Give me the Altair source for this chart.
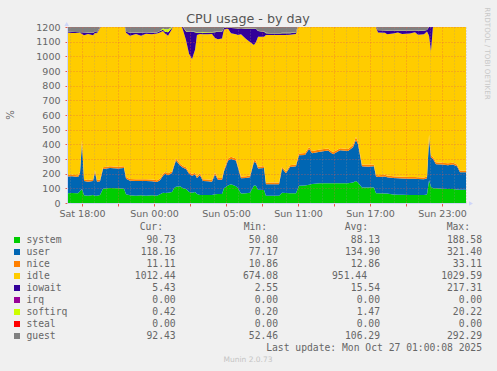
import altair as alt
import pandas as pd

# hours relative to "Sat 18:00" (local time)
HOURS = [-1.25, -0.83, -0.33, -0.17, 0.00, 0.17, 0.50, 0.92, 1.08, 1.25,
         1.50, 1.75, 2.33, 3.00, 3.50, 3.67, 4.00, 4.50, 4.92, 5.33,
         5.83, 6.25, 6.50, 6.75, 6.92, 7.17, 7.50, 7.67, 7.83, 8.17,
         8.42, 8.67, 8.92, 9.17, 9.42, 9.58, 9.83, 10.08, 10.50, 10.83,
         11.08, 11.33, 11.67, 11.83, 12.17, 12.42, 12.83, 13.00, 13.25, 13.67,
         14.00, 14.33, 14.50, 14.67, 15.17, 15.33, 15.83, 16.42, 16.67, 17.00,
         17.33, 17.83, 18.08, 18.58, 18.92, 19.17, 19.83, 20.50, 20.92, 21.50,
         22.17, 22.58, 22.83, 23.00, 23.33, 23.83, 24.33, 24.50, 24.67, 25.25,
         25.42, 25.92, 26.33, 26.67, 27.33, 27.75, 28.00, 28.50, 28.75, 28.92,
         29.08, 29.25, 29.50, 30.00, 30.50, 30.92, 31.25, 31.50, 32.00]

SYSTEM = [66, 68, 66, 80, 95, 52, 50, 55, 50, 50,
          55, 98, 102, 100, 98, 60, 52, 50, 52, 50,
          53, 50, 60, 70, 68, 70, 75, 100, 110, 115,
          100, 95, 75, 70, 75, 62, 55, 55, 55, 55,
          60, 62, 62, 100, 120, 128, 115, 100, 65, 66,
          70, 120, 118, 90, 88, 50, 50, 50, 70, 68,
          66, 66, 118, 120, 125, 130, 134, 134, 134, 135,
          134, 140, 150, 140, 105, 105, 105, 66, 66, 64,
          64, 58, 56, 56, 55, 55, 55, 54, 58, 155,
          110, 100, 100, 98, 96, 95, 92, 90, 90.73]

USER = [114, 114, 112, 120, 320, 98, 95, 95, 160, 95,
        93, 134, 136, 136, 140, 105, 100, 100, 98, 100,
        95, 93, 95, 115, 132, 120, 130, 150, 180, 140,
        140, 137, 125, 115, 120, 108, 135, 95, 93, 90,
        135, 96, 96, 115, 170, 172, 175, 140, 103, 104,
        105, 160, 157, 145, 150, 78, 78, 78, 165, 134,
        179, 184, 207, 208, 243, 210, 216, 224, 198, 225,
        221, 240, 280, 260, 145, 143, 145, 114, 112, 116,
        111, 112, 112, 111, 111, 110, 109, 108, 110, 285,
        200, 200, 165, 164, 162, 167, 158, 120, 118.16]

NICE = [11, 11, 12, 12, 15, 12, 12, 12, 14, 12,
        12, 12, 13, 12, 12, 12, 12, 12, 12, 12,
        12, 12, 12, 12, 12, 12, 12, 13, 14, 13,
        13, 12, 12, 12, 12, 12, 12, 12, 12, 12,
        13, 12, 12, 13, 14, 15, 14, 13, 12, 12,
        12, 14, 14, 13, 13, 11, 11, 11, 12, 12,
        12, 12, 13, 13, 14, 14, 14, 14, 14, 14,
        14, 15, 20, 18, 13, 13, 13, 12, 12, 12,
        12, 12, 12, 12, 12, 12, 12, 12, 12, 25,
        14, 14, 13, 13, 13, 13, 13, 12, 11.11]

IDLE = [971, 966, 969, 948, 723, 982, 996, 982, 935, 1001,
        1034, 988, 981, 984, 982, 984, 977, 991, 979, 992,
        991, 1000, 995, 975, 943, 938, 970, 969, 928, 964,
        925, 866, 805, 785, 838, 963, 950, 988, 990, 995,
        917, 947, 952, 955, 884, 843, 847, 892, 971, 936,
        911, 784, 809, 885, 882, 1007, 1007, 1007, 899, 932,
        891, 891, 894, 891, 850, 878, 868, 860, 886, 858,
        863, 837, 782, 814, 969, 971, 969, 1007, 972, 969,
        963, 974, 983, 974, 977, 987, 971, 976, 989, 675,
        710, 891, 954, 957, 961, 957, 969, 1010, 1012.44]

IOWAIT = [5, 8, 5, 5, 12, 18, 8, 15, 8, 6,
          5, 3, 3, 3, 3, 6, 20, 8, 18, 8,
          10, 8, 10, 10, 12, 25, 8, 3, 3, 3,
          20, 60, 150, 185, 120, 15, 8, 10, 10, 10,
          40, 50, 45, 10, 8, 35, 40, 45, 40, 70,
          90, 110, 90, 40, 35, 12, 10, 10, 12, 12,
          10, 10, 3, 3, 3, 3, 3, 3, 3, 3,
          3, 3, 3, 3, 3, 3, 3, 5, 15, 15,
          25, 20, 12, 22, 20, 12, 28, 25, 10, 60,
          200, 30, 3, 3, 3, 3, 3, 3, 5.43]

IRQ = [0] * len(HOURS)

SOFTIRQ = [1, 1, 1, 1, 1, 1, 1, 1, 1, 1,
           1, 1, 1, 1, 1, 1, 1, 1, 1, 1,
           1, 2, 3, 8, 18, 20, 5, 1, 1, 1,
           2, 2, 3, 3, 3, 5, 5, 6, 5, 4,
           3, 3, 3, 2, 2, 2, 2, 2, 2, 2,
           2, 2, 2, 2, 2, 2, 2, 2, 2, 2,
           2, 2, 1, 1, 1, 1, 1, 1, 1, 1,
           1, 1, 1, 1, 1, 1, 1, 1, 1, 1,
           1, 1, 1, 1, 1, 1, 1, 1, 1, 2,
           2, 1, 1, 1, 1, 1, 1, 1, 0.42]

STEAL = [0] * len(HOURS)

GUEST = [95, 95, 100, 110, 280, 100, 95, 95, 150, 95,
         95, 110, 110, 110, 110, 95, 95, 95, 95, 95,
         95, 95, 100, 105, 110, 110, 110, 120, 130, 120,
         115, 110, 105, 100, 100, 95, 95, 95, 95, 95,
         100, 95, 95, 110, 125, 130, 125, 115, 95, 95,
         95, 130, 130, 115, 115, 90, 90, 90, 120, 110,
         120, 120, 140, 140, 160, 140, 145, 150, 135, 150,
         150, 160, 200, 180, 110, 110, 110, 95, 95, 95,
         95, 90, 90, 90, 90, 90, 90, 90, 95, 290,
         200, 150, 120, 120, 115, 120, 110, 95, 92.43]

NAMES = ["system", "user", "nice", "idle", "iowait", "irq", "softirq", "steal", "guest"]
COLORS = ["#00CC00", "#0066B3", "#FF8000", "#FFCC00", "#330099",
          "#990099", "#CCFF00", "#FF0000", "#808080"]
CUR = [90.73, 118.16, 11.11, 1012.44, 5.43, 0.00, 0.42, 0.00, 92.43]
MIN = [50.80, 77.17, 10.86, 674.08, 2.55, 0.00, 0.20, 0.00, 52.46]
AVG = [88.13, 134.90, 12.86, 951.44, 15.54, 0.00, 1.47, 0.00, 106.29]
MAX = [188.58, 321.40, 33.11, 1029.59, 217.31, 0.00, 20.22, 0.00, 292.29]
HEADERS = ["Cur:", "Min:", "Avg:", "Max:"]

X_TICKS = [0, 6, 12, 18, 24, 30]
X_LABELS = ["Sat 18:00", "Sun 00:00", "Sun 05:00", "Sun 11:00", "Sun 17:00", "Sun 23:00"]
Y_TICKS = list(range(0, 1300, 100))

TITLE = "CPU usage - by day"
SIDE_TEXT = "RRDTOOL / TOBI OETIKER"
LAST_UPDATE = "Last update: Mon Oct 27 01:00:08 2025"
FOOTER = "Munin 2.0.73"

series = [SYSTEM, USER, NICE, IDLE, IOWAIT, IRQ, SOFTIRQ, STEAL, GUEST]
rows = []
for k, (name, vals) in enumerate(zip(NAMES, series)):
    for t, v in zip(HOURS, vals):
        rows.append({"t": t, "value": v, "series": name, "ord": k})
df = pd.DataFrame(rows)

W, H = 399, 176
FONT = "DejaVu Sans"
MONO = "DejaVu Sans Mono"
TXT = "#666666"
AXIS_C = "#CFD6F8"
MGRID = "#E85A4A"
GRID = "#A09090"

label_expr = " : ".join(f"datum.value == {v} ? '{lab}'" for v, lab in zip(X_TICKS, X_LABELS)) + " : ''"

area = alt.Chart(df).mark_area(clip=True, interpolate="linear").encode(
    x=alt.X("t:Q",
            scale=alt.Scale(domain=[-1.25, 32], nice=False, zero=False),
            axis=alt.Axis(values=list(range(-1, 33)), labelExpr=label_expr, title=None,
                          grid=True,
                          gridColor={"condition": {"test": "datum.value % 3 == 0", "value": MGRID},
                                     "value": GRID},
                          gridOpacity={"condition": {"test": "datum.value % 3 == 0", "value": 0.55},
                                       "value": 0.45},
                          gridDash=[1, 2],
                          tickColor={"condition": {"test": "datum.value % 3 == 0", "value": MGRID},
                                     "value": "rgba(0,0,0,0)"},
                          tickSize=3, labelPadding=2, domainColor=AXIS_C,
                          labelFont=FONT, labelFontSize=9.5, labelColor=TXT,
                          labelOverlap=False, labelFlush=False, zindex=1)),
    y=alt.Y("value:Q", stack="zero",
            scale=alt.Scale(domain=[0, 1200], nice=False),
            axis=alt.Axis(values=Y_TICKS, format="d", title=None, grid=True, gridColor=MGRID,
                          gridDash=[1, 2], gridOpacity=0.55, tickColor=MGRID, tickSize=2,
                          labelPadding=5, domainColor=AXIS_C, labelFont=FONT,
                          labelFontSize=9.5, labelColor=TXT, zindex=1)),
    color=alt.Color("series:N", scale=alt.Scale(domain=NAMES, range=COLORS), legend=None),
    order=alt.Order("ord:Q", sort="ascending"),
)

title = alt.Chart(pd.DataFrame({"s": [TITLE]})).mark_text(
    font=FONT, fontSize=12.7, color="#555555", align="center", baseline="middle"
).encode(text="s:N", x=alt.value(181), y=alt.value(-8))

ylab = alt.Chart(pd.DataFrame({"s": ["%"]})).mark_text(
    font=FONT, fontSize=10, color=TXT, align="center", baseline="middle", angle=270
).encode(text="s:N", x=alt.value(-56), y=alt.value(88))

side = alt.Chart(pd.DataFrame({"s": [SIDE_TEXT]})).mark_text(
    font=FONT, fontSize=7.2, color="#C8C8C8", align="center", baseline="middle", angle=90
).encode(text="s:N", x=alt.value(420), y=alt.value(26.5))

up_arrow = alt.Chart(pd.DataFrame({"a": [0]})).mark_point(
    shape="triangle-up", filled=True, size=22, color=AXIS_C, opacity=1
).encode(x=alt.value(-0.3), y=alt.value(-3))

right_arrow = alt.Chart(pd.DataFrame({"a": [0]})).mark_point(
    shape="triangle-right", filled=True, size=22, color=AXIS_C, opacity=1
).encode(x=alt.value(404), y=alt.value(176.5))

leg = pd.DataFrame({"name": NAMES, "color": COLORS, "cur": CUR, "min": MIN,
                    "avg": AVG, "max": MAX, "row": list(range(len(NAMES)))})
base = alt.Chart(leg).transform_calculate(py="213 + datum.row * 12",
                                          ax="datum.name == 'idle' ? 300 : 313")

swatch = base.mark_square(size=36, opacity=1).encode(
    x=alt.value(-50), y=alt.Y("py:Q", scale=None), color=alt.Color("color:N", scale=None))

txt_kw = dict(font=MONO, fontSize=9.7, color=TXT, baseline="middle")
names_t = base.mark_text(align="left", **txt_kw).encode(
    x=alt.value(-40.5), y=alt.Y("py:Q", scale=None), text="name:N")
cur_t = base.mark_text(align="right", **txt_kw).encode(
    x=alt.value(108.7), y=alt.Y("py:Q", scale=None), text=alt.Text("cur:Q", format=".2f"))
min_t = base.mark_text(align="right", **txt_kw).encode(
    x=alt.value(211), y=alt.Y("py:Q", scale=None), text=alt.Text("min:Q", format=".2f"))
avg_t = base.mark_text(align="right", **txt_kw).encode(
    x=alt.X("ax:Q", scale=None), y=alt.Y("py:Q", scale=None), text=alt.Text("avg:Q", format=".2f"))
max_t = base.mark_text(align="right", **txt_kw).encode(
    x=alt.value(415), y=alt.Y("py:Q", scale=None), text=alt.Text("max:Q", format=".2f"))

hdr = pd.DataFrame({"h": HEADERS, "k": [0, 1, 2, 3]})
hdr_t = alt.Chart(hdr).transform_calculate(
    hx="[96, 200, 301, 403][datum.k]"
).mark_text(align="right", **txt_kw).encode(
    x=alt.X("hx:Q", scale=None), y=alt.value(200), text="h:N")

last_t = alt.Chart(pd.DataFrame({"s": [LAST_UPDATE]})).mark_text(align="right", **txt_kw).encode(
    x=alt.value(415), y=alt.value(321), text="s:N")

footer = alt.Chart(pd.DataFrame({"s": [FOOTER]})).mark_text(
    font=FONT, fontSize=7.5, color="#C4C4C4", align="center", baseline="middle"
).encode(text="s:N", x=alt.value(181), y=alt.value(333))

chart = alt.layer(
    area, title, ylab, side, up_arrow, right_arrow, swatch, names_t,
    cur_t, min_t, avg_t, max_t, hdr_t, last_t, footer
).properties(
    width=W, height=H,
    padding={"left": 67, "top": 27, "right": 31, "bottom": 168},
    autosize="none",
    background="#F0F0F0",
).configure_view(stroke=None, fill="#FFFFFF")

chart.save("out.html", embed_options={"renderer": "svg", "actions": False})
